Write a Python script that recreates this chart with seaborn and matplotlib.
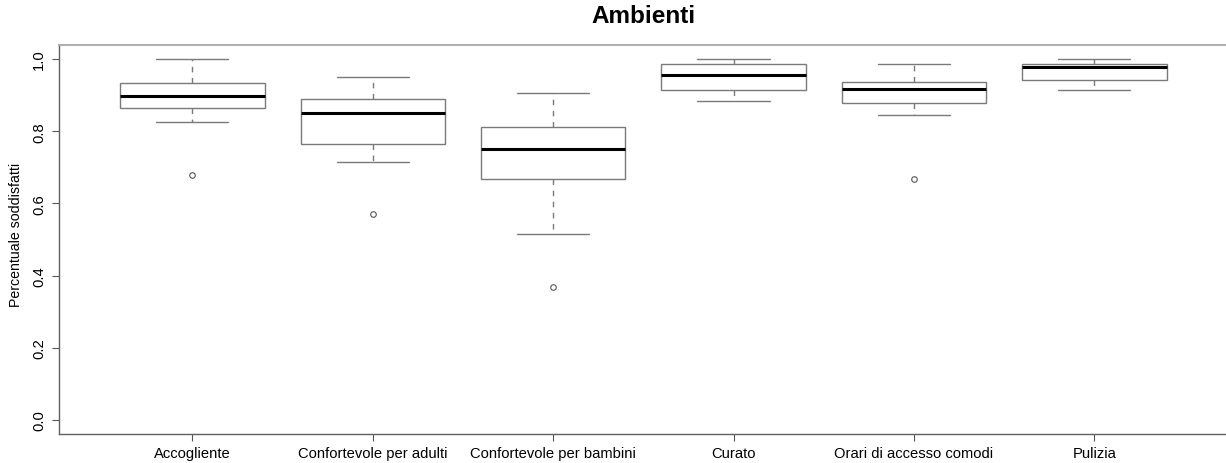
import pandas as pd
import matplotlib
matplotlib.use("Agg")
import matplotlib.pyplot as plt
import seaborn as sns

# =====================================
# Data
# =====================================

categories = [
    "Accogliente",
    "Confortevole per adulti",
    "Confortevole per bambini",
    "Curato",
    "Orari di accesso comodi",
    "Pulizia",
]

accogliente = [0.679, 0.825, 0.864, 0.880, 0.898, 0.915, 0.934, 0.960, 1.000]
conf_adulti = [0.570, 0.714, 0.765, 0.810, 0.851, 0.870, 0.890, 0.920, 0.951]
conf_bambini = [0.368, 0.514, 0.667, 0.710, 0.752, 0.780, 0.813, 0.860, 0.907]
curato = [0.885, 0.900, 0.915, 0.935, 0.955, 0.970, 0.987, 0.995, 1.000]
orari = [0.667, 0.846, 0.877, 0.900, 0.918, 0.925, 0.937, 0.960, 0.987]
pulizia = [0.915, 0.930, 0.942, 0.960, 0.978, 0.983, 0.987, 0.995, 1.000]

yticks = [0.0, 0.2, 0.4, 0.6, 0.8, 1.0]

series = [accogliente, conf_adulti, conf_bambini, curato, orari, pulizia]
rows = []
for cat, vals in zip(categories, series):
    for v in vals:
        rows.append({"categoria": cat, "valore": v})
df = pd.DataFrame(rows)

# =====================================
# Plot
# =====================================

sns.set_style("white")
plt.rcParams["font.family"] = ["Liberation Sans", "DejaVu Sans"]
plt.rcParams["text.color"] = "black"
plt.rcParams["axes.labelcolor"] = "black"
plt.rcParams["xtick.labelcolor"] = "black"
plt.rcParams["ytick.labelcolor"] = "black"

fig = plt.figure(figsize=(12.26, 4.64), dpi=100)
ax = fig.add_axes([0.0480, 0.0619, 0.9535, 0.8397])

edge = "#7a7a7a"
sns.boxplot(
    data=df,
    x="categoria",
    y="valore",
    order=categories,
    width=0.8,
    whis=1.5,
    color="white",
    linecolor=edge,
    linewidth=1.0,
    fliersize=4,
    boxprops=dict(facecolor="white", edgecolor=edge, linewidth=1.0),
    medianprops=dict(color="black", linewidth=2.2),
    whiskerprops=dict(color=edge, linestyle=(0, (4, 4)), linewidth=1.0),
    capprops=dict(color=edge, linewidth=1.0),
    flierprops=dict(marker="o", markerfacecolor="white",
                    markeredgecolor="#555555", markeredgewidth=0.8),
    ax=ax,
)

# cap width like R (half of box width)
for line in ax.lines:
    xd = line.get_xdata()
    yd = line.get_ydata()
    if len(xd) == 2 and yd[0] == yd[1] and line.get_linestyle() == "-":
        c = (xd[0] + xd[1]) / 2
        half = abs(xd[1] - xd[0]) / 2
        if 0.15 < half < 0.25:
            line.set_xdata([c - 0.2, c + 0.2])

ax.set_xlim(-0.74, 5.74)
ax.set_ylim(-0.04, 1.04)
ax.set_yticks(yticks)
ax.set_yticklabels(["%.1f" % t for t in yticks], rotation=90, va="center")
ax.set_xticks(range(len(categories)))
ax.set_xticklabels(categories)

ax.tick_params(axis="both", which="both", length=5, width=0.8,
               color="#555555", labelsize=10.6, direction="out",
               left=True, bottom=True)
ax.tick_params(axis="y", pad=4)

for side in ["top", "right", "left", "bottom"]:
    ax.spines[side].set_visible(True)
    ax.spines[side].set_color("#b0b0b0")
    ax.spines[side].set_linewidth(1.5)
ax.spines["left"].set_color("#606060")
ax.spines["bottom"].set_color("#606060")
ax.spines["left"].set_linewidth(1.0)
ax.spines["bottom"].set_linewidth(1.0)

ax.set_xlabel("")
ax.set_ylabel("Percentuale soddisfatti", fontsize=10.2)
ax.yaxis.set_label_coords(-0.031, 0.513)
fig.text(0.5245, 0.965, "Ambienti", ha="center", va="center",
         fontsize=17.5, fontweight="bold")

fig.savefig("out.png", dpi=100)
